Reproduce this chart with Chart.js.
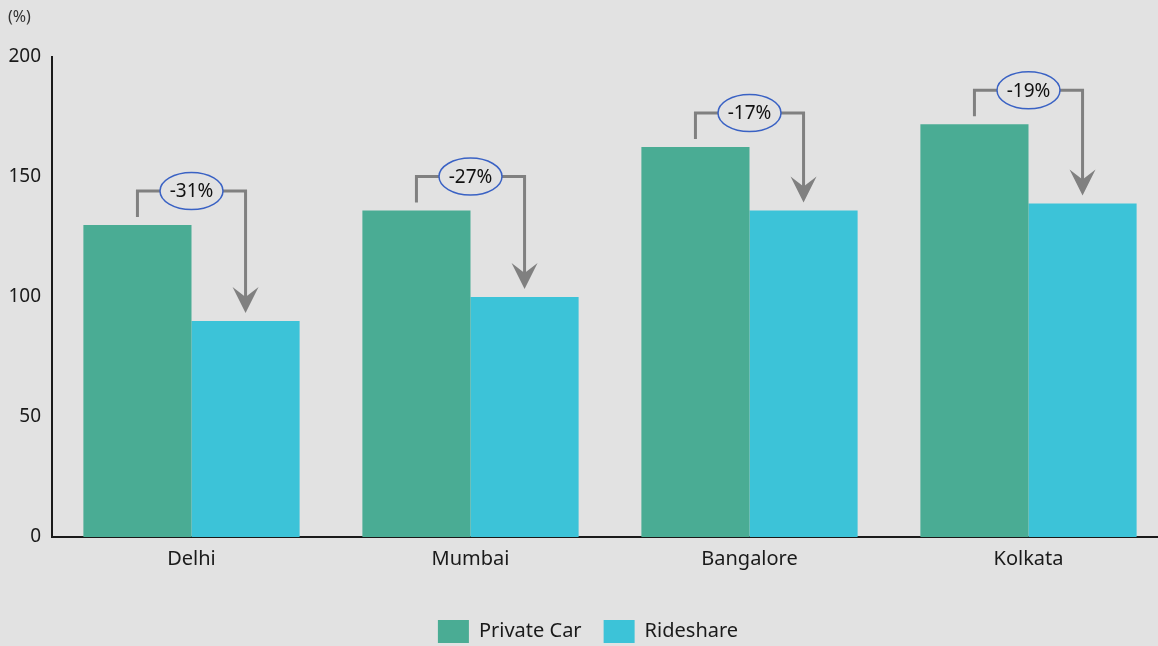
<!DOCTYPE html>
<html>
<head>
<meta charset="utf-8">
<script src="https://cdn.jsdelivr.net/npm/chart.js@4"></script>
<style>
  html, body { margin: 0; padding: 0; background: #e2e2e2; overflow: hidden; }
  #wrap { width: 1168px; height: 653px; }
</style>
</head>
<body>
<div id="wrap"><canvas id="chart"></canvas></div>
<script>
// data
const cities = ['Delhi', 'Mumbai', 'Bangalore', 'Kolkata'];
const privateCar = [130, 136, 162.5, 172];
const rideshare = [90, 100, 136, 139];
const changeLabels = ['-31%', '-27%', '-17%', '-19%'];
const yTicks = [0, 50, 100, 150, 200];

const FONT = "'Noto Sans', sans-serif";

// brackets + arrows between the two bars of each city
const bracketPlugin = {
  id: 'brackets',
  afterDatasetsDraw(chart) {
    const ctx = chart.ctx;
    const m0 = chart.getDatasetMeta(0);
    const m1 = chart.getDatasetMeta(1);
    ctx.save();
    // unit label top left
    ctx.fillStyle = '#333';
    ctx.font = "16px " + FONT;
    ctx.textBaseline = 'middle';
    ctx.fillText('(%)', 8, 17);

    cities.forEach((c, i) => {
      const b0 = m0.data[i], b1 = m1.data[i];
      const x0 = b0.x, x1 = b1.x;
      const topY = b0.y - 34;
      const tipY = b1.y - 8;
      ctx.strokeStyle = '#808080';
      ctx.lineWidth = 3;
      ctx.lineJoin = 'miter';
      ctx.beginPath();
      ctx.moveTo(x0, b0.y - 8);
      ctx.lineTo(x0, topY);
      ctx.lineTo(x1, topY);
      ctx.lineTo(x1, tipY - 12);
      ctx.stroke();
      // arrow head
      ctx.fillStyle = '#808080';
      ctx.beginPath();
      ctx.moveTo(x1, tipY);
      ctx.lineTo(x1 - 13, tipY - 26);
      ctx.lineTo(x1, tipY - 16);
      ctx.lineTo(x1 + 13, tipY - 26);
      ctx.closePath();
      ctx.fill();
      // ellipse label
      const cx = (x0 + x1) / 2;
      ctx.beginPath();
      ctx.ellipse(cx, topY, 31.5, 18.5, 0, 0, Math.PI * 2);
      ctx.fillStyle = '#e2e2e2';
      ctx.fill();
      ctx.strokeStyle = '#3a62c4';
      ctx.lineWidth = 1.5;
      ctx.stroke();
      ctx.fillStyle = '#111';
      ctx.font = "19px " + FONT;
      ctx.textAlign = 'center';
      ctx.textBaseline = 'middle';
      ctx.fillText(changeLabels[i], cx, topY + 1);
      ctx.textAlign = 'start';
    });
    ctx.restore();
  }
};

new Chart(document.getElementById('chart'), {
  type: 'bar',
  data: {
    labels: cities,
    datasets: [
      { label: 'Private Car', data: privateCar, backgroundColor: '#4aac94' },
      { label: 'Rideshare', data: rideshare, backgroundColor: '#3cc3d8' }
    ]
  },
  options: {
    responsive: true,
    maintainAspectRatio: false,
    animation: false,
    categoryPercentage: 0.775,
    barPercentage: 1,
    layout: { padding: { top: 57, left: 8, right: 0, bottom: 0 } },
    scales: {
      x: {
        afterFit(axis) { axis.height = 61; },
        grid: { display: false, drawTicks: false },
        border: { display: true, color: '#1a1a1a', width: 2 },
        ticks: { color: '#1a1a1a', font: { family: FONT, size: 20 }, padding: 10 }
      },
      y: {
        min: 0,
        max: 200,
        afterBuildTicks(axis) { axis.ticks = yTicks.map(v => ({ value: v })); },
        afterFit(axis) { axis.width = 44; },
        grid: { display: false, drawTicks: false },
        border: { display: true, color: '#1a1a1a', width: 2 },
        ticks: { color: '#1a1a1a', font: { family: FONT, size: 19 }, padding: 11 }
      }
    },
    plugins: {
      legend: {
        position: 'bottom',
        labels: {
          boxWidth: 31,
          boxHeight: 23,
          color: '#1a1a1a',
          font: { family: FONT, size: 20 },
          padding: 22
        }
      },
      tooltip: { enabled: false }
    }
  },
  plugins: [bracketPlugin]
});
</script>
</body>
</html>
